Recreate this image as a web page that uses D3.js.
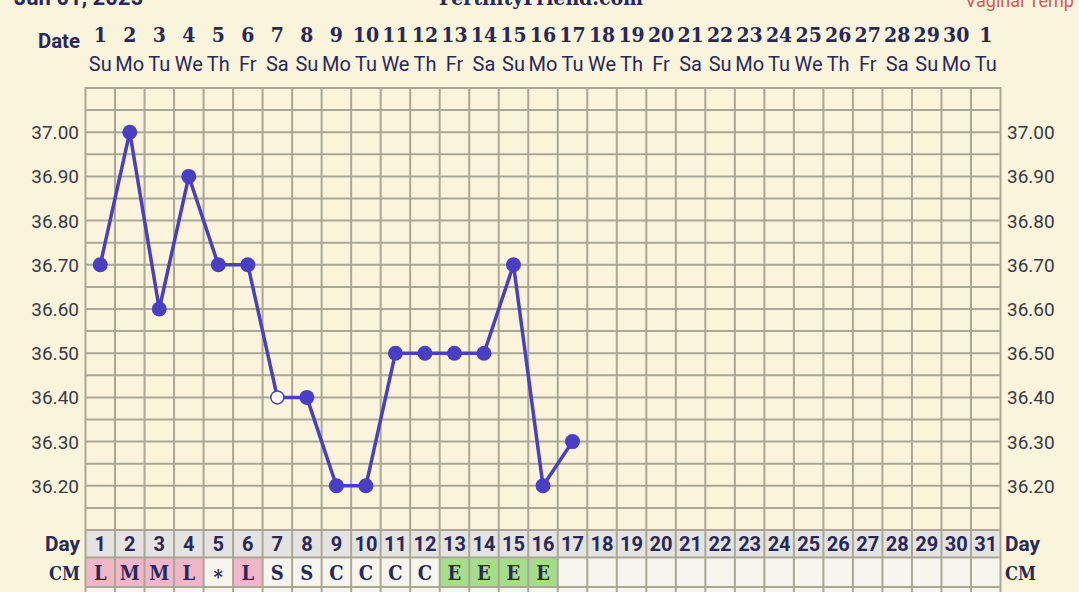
<!DOCTYPE html>
<html><head><meta charset="utf-8">
<script src="https://cdn.jsdelivr.net/npm/d3@7"></script>
<style>
html,body{margin:0;padding:0;background:#faf4dc;}
svg{display:block;}
</style></head>
<body>
<svg id="chart" width="1079" height="592"></svg>
<script>
const cycleDays = d3.range(1, 32);
const dateLabels = ["1","2","3","4","5","6","7","8","9","10","11","12","13","14","15","16","17","18","19","20","21","22","23","24","25","26","27","28","29","30","1"];
const weekdays = ["Su","Mo","Tu","We","Th","Fr","Sa","Su","Mo","Tu","We","Th","Fr","Sa","Su","Mo","Tu","We","Th","Fr","Sa","Su","Mo","Tu","We","Th","Fr","Sa","Su","Mo","Tu"];
const tempDays = [1,2,3,4,5,6,7,8,9,10,11,12,13,14,15,16,17];
const temps = [36.70,37.00,36.60,36.90,36.70,36.70,36.40,36.40,36.20,36.20,36.50,36.50,36.50,36.50,36.70,36.20,36.30];
const openPoints = [7];
const cmValues = ["L","M","M","L","*","L","S","S","C","C","C","C","E","E","E","E"];
const yTicks = [37.00,36.90,36.80,36.70,36.60,36.50,36.40,36.30,36.20];

const svg = d3.select("#chart");
const navy = "#29285a";
const gridC = "#aaa795";
const lineC = "#4a3fc3";
const slab = "'DejaVu Serif Condensed','DejaVu Serif',serif";

const x = d3.scaleBand().domain(cycleDays).range([85.5, 1000.5]).padding(0);
const y = d3.scaleLinear().domain([36.1, 37.1]).range([530, 88]);
const cx = d => x(d) + x.bandwidth() / 2;

// title (cropped at top, as in the reference)
svg.append("text").attr("x", 14).attr("y", 5).attr("font-family", "Roboto, sans-serif").attr("font-weight", "bold").attr("font-size", 22).attr("fill", navy).text("Jun 01, 2025");
svg.append("text").attr("x", 541).attr("y", 5).attr("text-anchor", "middle").attr("font-family", slab).attr("font-weight", "bold").attr("font-size", 21).attr("fill", navy).text("FertilityFriend.com");
svg.append("text").attr("x", 965).attr("y", 7).attr("font-family", "Roboto, sans-serif").attr("font-size", 18).attr("fill", "#d45a5a").text("Vaginal Temp");

// Date header
svg.append("text").attr("x", 80).attr("y", 48).attr("text-anchor", "end").attr("font-family", "Roboto, sans-serif").attr("font-weight", "bold").attr("font-size", 21).attr("fill", navy).attr("textLength", 42).attr("lengthAdjust", "spacingAndGlyphs").text("Date");
svg.append("g").selectAll("text").data(cycleDays).join("text")
  .attr("x", d => cx(d)).attr("y", 42).attr("text-anchor", "middle")
  .attr("font-family", slab).attr("font-weight", "bold").attr("font-size", 21).attr("fill", navy)
  .text((d, i) => dateLabels[i]);
svg.append("g").selectAll("text").data(cycleDays).join("text")
  .attr("x", d => cx(d)).attr("y", 71).attr("text-anchor", "middle")
  .attr("font-family", "Roboto, sans-serif").attr("font-size", 20).attr("fill", navy)
  .text((d, i) => weekdays[i]);

// Day row and CM row backgrounds
const dayTop = 530, dayH = 27.5, cmTop = 557.5, cmH = 29.5;
svg.append("g").selectAll("rect").data(cycleDays).join("rect")
  .attr("x", d => x(d)).attr("y", dayTop).attr("width", x.bandwidth()).attr("height", dayH).attr("fill", "#e4e3e1");
const cmColor = v => (v === "L" || v === "M") ? "#f1b7c9" : (v === "E" ? "#a6dd8b" : "#f6f5ee");
svg.append("g").selectAll("rect").data(cycleDays).join("rect")
  .attr("x", d => x(d)).attr("y", cmTop).attr("width", x.bandwidth()).attr("height", cmH)
  .attr("fill", (d, i) => cmColor(cmValues[i]));
svg.append("rect").attr("x", 85.5).attr("y", 587).attr("width", 915).attr("height", 5).attr("fill", "#f6f5ee");

// grid
const grid = svg.append("g").attr("stroke", gridC).attr("stroke-width", 2);
const hLines = d3.range(0, 21).map(i => 36.1 + i * 0.05);
grid.selectAll("line.h").data(hLines).join("line").attr("class", "h")
  .attr("x1", 85.5).attr("x2", 1000.5).attr("y1", d => y(d)).attr("y2", d => y(d));
const edges = cycleDays.map(d => x(d)).concat([x(31) + x.bandwidth()]);
grid.selectAll("line.v").data(edges).join("line").attr("class", "v")
  .attr("x1", d => d).attr("x2", d => d).attr("y1", 87).attr("y2", 592);
[557.5, 587].forEach(yy => grid.append("line").attr("x1", 85.5).attr("x2", 1000.5).attr("y1", yy).attr("y2", yy));

// y labels both sides
const lab = svg.append("g").attr("font-family", "Roboto, sans-serif").attr("font-size", 19).attr("fill", "#3a3946");
lab.selectAll("text.l").data(yTicks).join("text").attr("class", "l")
  .attr("x", 79).attr("y", d => y(d) + 7).attr("text-anchor", "end").text(d => d.toFixed(2));
lab.selectAll("text.r").data(yTicks).join("text").attr("class", "r")
  .attr("x", 1007).attr("y", d => y(d) + 7).attr("text-anchor", "start").text(d => d.toFixed(2));

// Day row labels
svg.append("g").selectAll("text").data(cycleDays).join("text")
  .attr("x", d => cx(d)).attr("y", 551).attr("text-anchor", "middle")
  .attr("font-family", "Roboto, sans-serif").attr("font-weight", "bold").attr("font-size", 20).attr("fill", navy).text(d => d);
svg.append("text").attr("x", 80).attr("y", 551).attr("text-anchor", "end").attr("font-family", "Roboto, sans-serif").attr("font-weight", "bold").attr("font-size", 21).attr("fill", navy).attr("textLength", 35).attr("lengthAdjust", "spacingAndGlyphs").text("Day");
svg.append("text").attr("x", 1005).attr("y", 551).attr("font-family", "Roboto, sans-serif").attr("font-weight", "bold").attr("font-size", 21).attr("fill", navy).attr("textLength", 35).attr("lengthAdjust", "spacingAndGlyphs").text("Day");

// CM labels
svg.append("g").selectAll("text").data(cmValues).join("text")
  .attr("x", (v, i) => cx(cycleDays[i])).attr("y", v => v === "*" ? 584 : 580).attr("text-anchor", "middle")
  .attr("font-family", slab).attr("font-weight", "bold").attr("font-size", 20).attr("fill", navy).text(v => v);
svg.append("text").attr("x", 80).attr("y", 580).attr("text-anchor", "end").attr("font-family", slab).attr("font-weight", "bold").attr("font-size", 19).attr("fill", navy).attr("textLength", 31).attr("lengthAdjust", "spacingAndGlyphs").text("CM");
svg.append("text").attr("x", 1005).attr("y", 580).attr("font-family", slab).attr("font-weight", "bold").attr("font-size", 19).attr("fill", navy).attr("textLength", 31).attr("lengthAdjust", "spacingAndGlyphs").text("CM");

// temperature line
const pts = tempDays.map((d, i) => ({ d, t: temps[i] }));
svg.append("path").datum(pts)
  .attr("fill", "none").attr("stroke", lineC).attr("stroke-width", 3.5).attr("stroke-linejoin", "round")
  .attr("d", d3.line().x(p => cx(p.d)).y(p => y(p.t)));
svg.append("g").selectAll("circle").data(pts).join("circle")
  .attr("cx", p => cx(p.d)).attr("cy", p => y(p.t))
  .attr("r", p => openPoints.includes(p.d) ? 6.5 : 7.5)
  .attr("fill", p => openPoints.includes(p.d) ? "#ffffff" : lineC)
  .attr("stroke", lineC).attr("stroke-width", p => openPoints.includes(p.d) ? 1.5 : 0);
</script>
</body></html>
